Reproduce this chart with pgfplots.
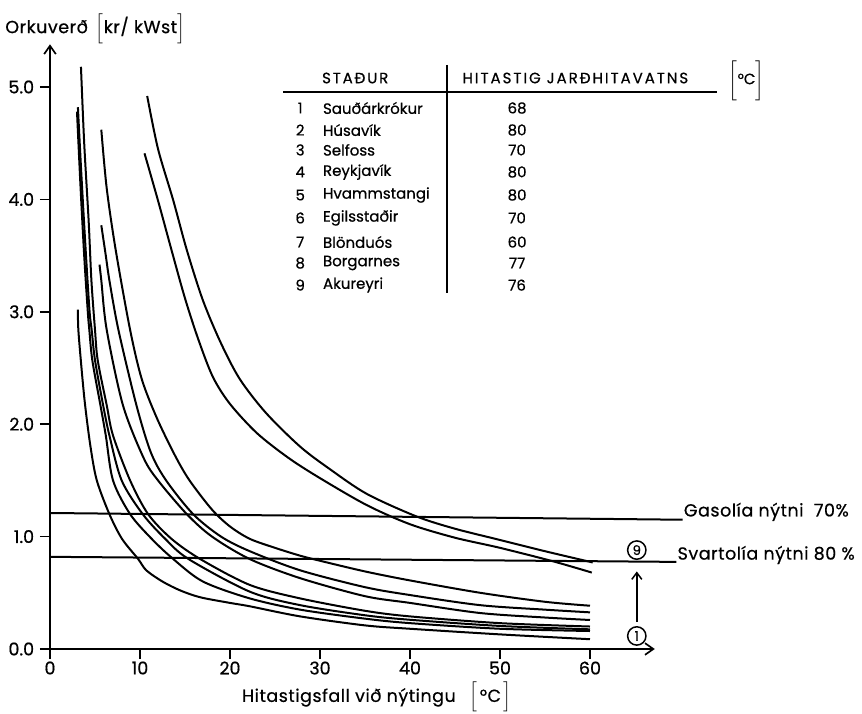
\documentclass[border=0pt]{standalone}
\usepackage{fontspec}
\setmainfont{Poppins}[FakeBold=0.6]
\usepackage{pgfplots}
\pgfplotsset{compat=1.18}
\usetikzlibrary{arrows.meta}
\tikzset{row/.style={font=\fontsize{9}{11}\selectfont, inner sep=0pt},
  lab/.style={font=\fontsize{10.5}{12}\selectfont\addfontfeatures{LetterSpace=3}, inner sep=0pt}}

\begin{document}
\begin{tikzpicture}
\begin{axis}[
    x=5.4pt, y=67.44pt,
    xmin=0, xmax=67.2, ymin=0, ymax=5.38,
    axis lines=left,
    axis line style={line width=1pt, -{Straight Barb[length=5pt,width=7pt]}},
    xtick={0,10,...,60}, ytick={0,1,...,5},
    tick align=outside, major tick length=6pt,
    tick style={line width=1pt, black},
    /pgf/number format/assume math mode=true,
    yticklabel style={/pgf/number format/.cd, fixed, fixed zerofill, precision=1},
    ticklabel style={font=\fontsize{10.5}{12}\selectfont},
    xticklabel style={yshift=2pt},
    clip=false,
    every axis plot/.append style={black, solid, line width=1.2pt, no marks},
]
% upper pair
\addplot[smooth] coordinates {(10.8,4.92) (12,4.45) (13.7,3.99) (15.2,3.55) (17,3.1) (19,2.72) (21.1,2.4) (24,2.1) (27.8,1.8) (31.1,1.6) (35.2,1.38) (40.7,1.18) (45,1.07) (50,0.97) (55,0.87) (60.3,0.77)};
\addplot[smooth] coordinates {(10.5,4.41) (12,3.99) (13.5,3.55) (15,3.12) (16.5,2.75) (18.1,2.42) (20,2.18) (23,1.92) (26.5,1.7) (30,1.52) (35.2,1.28) (40,1.11) (45,0.99) (50,0.90) (55.9,0.78) (60.2,0.68)};
% lower group
\addplot[smooth] coordinates {(5.7,4.62) (6.3,4.1) (7.3,3.55) (8.9,2.84) (10.2,2.4) (11.9,2.05) (13.9,1.72) (15.5,1.5) (18,1.24) (20,1.09) (22.2,0.98) (25,0.9) (27.8,0.83) (30,0.785) (35,0.69) (40,0.61) (47.8,0.5) (55,0.42) (60,0.385)};
\addplot[smooth] coordinates {(5.7,3.77) (6.2,3.5) (6.6,3.28) (7.6,2.84) (9.6,2.17) (11.2,1.75) (12.9,1.5) (15.9,1.2) (19,1.0) (22.2,0.87) (27.8,0.70) (35,0.55) (40,0.48) (47.8,0.39) (55,0.35) (60,0.326)};
\addplot[smooth] coordinates {(5.5,3.42) (5.7,3.28) (6.3,2.84) (8.1,2.17) (10.4,1.7) (12.0,1.5) (15.2,1.2) (18,1.0) (22.2,0.80) (27.8,0.63) (35,0.47) (40,0.41) (47.8,0.32) (55,0.28) (60,0.258)};
\addplot[smooth] coordinates {(3.44,5.18) (3.8,4.5) (4.3,3.8) (4.6,3.28) (5.0,2.84) (5.3,2.57) (6.3,2.17) (7.0,1.9) (8.9,1.5) (10.9,1.2) (13.5,0.98) (16.7,0.8) (22.2,0.57) (27.8,0.45) (35,0.34) (40,0.29) (50,0.23) (60,0.20)};
\addplot[smooth] coordinates {(3.1,4.82) (3.5,4.2) (4.0,3.5) (4.4,3.0) (4.63,2.84) (5.0,2.57) (5.9,2.17) (6.6,1.9) (7.96,1.5) (10.3,1.2) (12.8,0.98) (15.4,0.8) (22.2,0.51) (27.8,0.39) (35,0.3) (40,0.26) (50,0.205) (60,0.175)};
\addplot[smooth] coordinates {(3.0,4.78) (3.4,4.1) (3.8,3.5) (4.2,3.0) (4.37,2.84) (4.7,2.57) (5.6,2.17) (6.2,1.9) (7.0,1.5) (8.9,1.2) (11.3,0.98) (13.7,0.8) (17,0.6) (22.2,0.45) (27.8,0.35) (35,0.27) (40,0.23) (50,0.18) (60,0.16)};
\addplot[smooth] coordinates {(3.1,3.02) (3.15,2.84) (3.5,2.5) (3.9,2.17) (4.5,1.8) (5.2,1.5) (6.6,1.2) (8,0.98) (9.8,0.8) (10.7,0.70) (12.5,0.6) (14.5,0.52) (16.7,0.46) (20,0.41) (22.2,0.38) (27.8,0.29) (35,0.21) (40,0.18) (50,0.13) (60,0.087)};
% oil price lines
\addplot[sharp plot] coordinates {(0,1.21) (70.3,1.15)};
\addplot[sharp plot] coordinates {(0,0.82) (69.6,0.775)};

\coordinate (O) at (axis cs:0,0);

% axis titles
\node[lab, anchor=west] at (axis cs:-5,5.52) {Orkuverð\ \,$\Big[$kr/ kWst$\Big]$};
\node[lab, anchor=west] at (axis cs:21.3,-0.43) {Hitastigsfall við nýtingu\ \ \,$\Big[$\,°C\,$\Big]$};

% table
\node[row, anchor=west] at (axis cs:30.2,5.08) {\addfontfeatures{LetterSpace=12}STAÐUR};
\node[row, anchor=west] at (axis cs:45.8,5.08) {\addfontfeatures{LetterSpace=13}HITASTIG JARÐHITAVATNS};
\node[row] at (axis cs:77.4,5.06) {$\bigg[$°C$\bigg]$};
\draw[line width=1pt] (axis cs:25.9,4.955) -- (axis cs:74.1,4.955);
\draw[line width=1pt] (axis cs:44.1,5.196) -- (axis cs:44.1,3.167);

\node[row] at (axis cs:27.8,4.813) {1};
\node[row, anchor=west] at (axis cs:30.3,4.813) {Sauðárkrókur};
\node[row] at (axis cs:51.9,4.813) {68};
\node[row] at (axis cs:27.8,4.617) {2};
\node[row, anchor=west] at (axis cs:30.3,4.617) {Húsavík};
\node[row] at (axis cs:51.9,4.617) {80};
\node[row] at (axis cs:27.8,4.440) {3};
\node[row, anchor=west] at (axis cs:30.3,4.440) {Selfoss};
\node[row] at (axis cs:51.9,4.440) {70};
\node[row] at (axis cs:27.8,4.244) {4};
\node[row, anchor=west] at (axis cs:30.3,4.244) {Reykjavík};
\node[row] at (axis cs:51.9,4.244) {80};
\node[row] at (axis cs:27.8,4.039) {5};
\node[row, anchor=west] at (axis cs:30.3,4.039) {Hvammstangi};
\node[row] at (axis cs:51.9,4.039) {80};
\node[row] at (axis cs:27.8,3.835) {6};
\node[row, anchor=west] at (axis cs:30.3,3.835) {Egilsstaðir};
\node[row] at (axis cs:51.9,3.835) {70};
\node[row] at (axis cs:27.8,3.621) {7};
\node[row, anchor=west] at (axis cs:30.3,3.621) {Blönduós};
\node[row] at (axis cs:51.9,3.621) {60};
\node[row] at (axis cs:27.8,3.434) {8};
\node[row, anchor=west] at (axis cs:30.3,3.434) {Borgarnes};
\node[row] at (axis cs:51.9,3.434) {77};
\node[row] at (axis cs:27.8,3.238) {9};
\node[row, anchor=west] at (axis cs:30.3,3.238) {Akureyri};
\node[row] at (axis cs:51.9,3.238) {76};

% right-hand labels
\node[lab, anchor=west] at (axis cs:70.4,1.22) {Gasolía nýtni\ \ 70\%};
\node[lab, anchor=west] at (axis cs:69.7,0.836) {Svartolía nýtni 80 \%};
\node[draw, circle, line width=0.9pt, minimum size=11pt, inner sep=0pt, font=\fontsize{8}{9}\selectfont] at (axis cs:65.2,0.88) {9};
\node[draw, circle, line width=0.9pt, minimum size=11pt, inner sep=0pt, font=\fontsize{8}{9}\selectfont] at (axis cs:65.2,0.116) {1};
\draw[line width=0.9pt, -{Straight Barb[length=4pt,width=6pt]}] (axis cs:65.2,0.24) -- (axis cs:65.2,0.69);
\end{axis}
\pgfresetboundingbox
\path (O) ++(-30pt,-39pt) rectangle ++(517.2pt,428.4pt);
\end{tikzpicture}
\end{document}
